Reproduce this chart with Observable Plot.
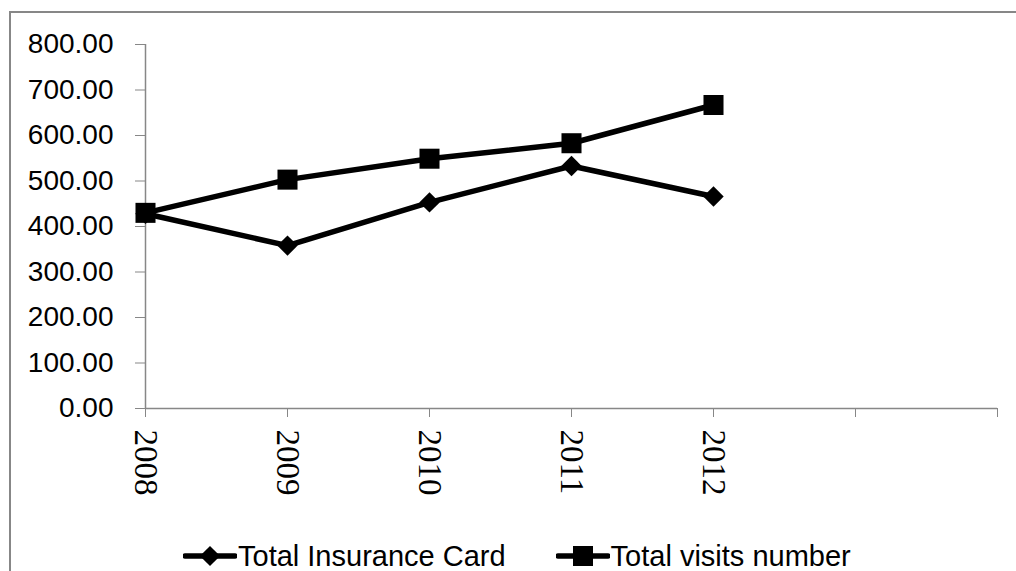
<!DOCTYPE html>
<html>
<head>
<meta charset="utf-8">
<script src="https://cdn.jsdelivr.net/npm/d3@7"></script>
<script src="https://cdn.jsdelivr.net/npm/@observablehq/plot@0.6"></script>
<style>
  html, body { margin: 0; padding: 0; background: #fff; overflow: hidden; }
  #wrap { position: relative; width: 1016px; height: 571px; }
  #frame { position: absolute; left: 9px; top: 11px; width: 1100px; height: 700px; border: 2px solid #878787; box-sizing: border-box; }
  #chart { position: absolute; left: 0; top: 0; }
  #legend { position: absolute; left: 183px; top: 540px; display: flex; align-items: center;
            font-family: "Liberation Sans", Arial, sans-serif; font-size: 29px; line-height: 32px; color: #000; white-space: nowrap; }
  .item { display: flex; align-items: center; }
  .item svg { display: block; }
</style>
</head>
<body>
<div id="wrap">
  <div id="frame"></div>
  <div id="chart"></div>
  <div id="legend"></div>
</div>
<script>
const years = [2008, 2009, 2010, 2011, 2012];
const insuranceCards = [428, 358, 453, 533, 466];
const visitsNumber = [430, 503, 549, 583, 667];
const xTicks = [2008, 2009, 2010, 2011, 2012, 2013, 2014];
const yTicks = [0, 100, 200, 300, 400, 500, 600, 700, 800];
const seriesNames = ["Total Insurance Card", "Total visits number"];
const seriesSymbols = ["diamond2", "square"];

const rows = [];
years.forEach((yr, i) => {
  rows.push({year: yr, value: insuranceCards[i], series: seriesNames[0]});
  rows.push({year: yr, value: visitsNumber[i], series: seriesNames[1]});
});
const ins = rows.filter(d => d.series === seriesNames[0]);
const vis = rows.filter(d => d.series === seriesNames[1]);

const chart = Plot.plot({
  width: 1016,
  height: 520,
  marginLeft: 145,
  marginRight: 19,
  marginTop: 44,
  marginBottom: 112,
  x: {domain: [2008, 2014]},
  y: {domain: [0, 800]},
  marks: [
    Plot.axisY({ticks: yTicks, tickSize: 10, tickPadding: 22, tickFormat: d3.format(".2f"), label: null,
      stroke: "#878787", fill: "#000", fontSize: 28, fontFamily: "Liberation Sans, Arial, sans-serif"}),
    Plot.axisX({ticks: xTicks, tickSize: 9, tickPadding: 12, tickRotate: 90,
      tickFormat: d => (years.includes(d) ? String(d) : ""), label: null,
      stroke: "#878787", fill: "#000", fontSize: 33, fontFamily: "Liberation Serif, Times New Roman, serif"}),
    Plot.ruleX([2008], {stroke: "#878787", strokeWidth: 1.5}),
    Plot.ruleY([0], {stroke: "#878787", strokeWidth: 1.5}),
    Plot.line(ins, {x: "year", y: "value", stroke: "#000", strokeWidth: 5.5}),
    Plot.line(vis, {x: "year", y: "value", stroke: "#000", strokeWidth: 5.5}),
    Plot.dot(ins, {x: "year", y: "value", symbol: seriesSymbols[0], r: 9.2, fill: "#000", stroke: null}),
    Plot.dot(vis, {x: "year", y: "value", symbol: seriesSymbols[1], r: 11.3, fill: "#000", stroke: null})
  ]
});
chart.style.fontFamily = "Liberation Sans, Arial, sans-serif";
document.getElementById("chart").appendChild(chart);

// Legend
const legend = document.getElementById("legend");
seriesNames.forEach((name, i) => {
  const item = document.createElement("div");
  item.className = "item";
  item.style.marginRight = i === 0 ? "50px" : "0";
  const ns = "http://www.w3.org/2000/svg";
  const svg = document.createElementNS(ns, "svg");
  svg.setAttribute("width", 54);
  svg.setAttribute("height", 30);
  const line = document.createElementNS(ns, "line");
  line.setAttribute("x1", 2); line.setAttribute("x2", 52);
  line.setAttribute("y1", 15); line.setAttribute("y2", 15);
  line.setAttribute("stroke", "#000"); line.setAttribute("stroke-width", 5.5);
  line.setAttribute("stroke-linecap", "round");
  svg.appendChild(line);
  const sym = document.createElementNS(ns, "path");
  const size = i === 0 ? 260 : 400;
  const type = i === 0 ? d3.symbolDiamond2 : d3.symbolSquare;
  sym.setAttribute("d", d3.symbol(type, size)());
  sym.setAttribute("transform", "translate(27,15)");
  sym.setAttribute("fill", "#000");
  svg.appendChild(sym);
  item.appendChild(svg);
  const label = document.createElement("span");
  label.textContent = name;
  label.style.marginLeft = "1px";
  item.appendChild(label);
  legend.appendChild(item);
});
</script>
</body>
</html>
